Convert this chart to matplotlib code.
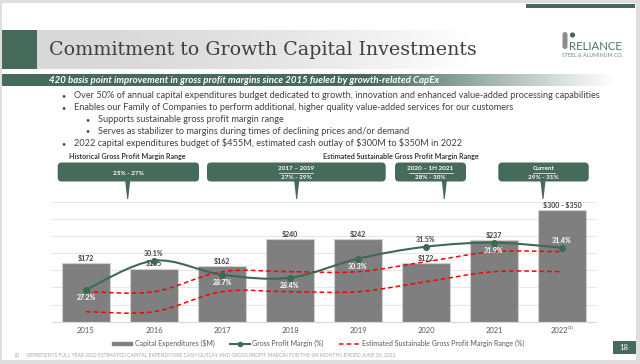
import matplotlib
matplotlib.use('Agg')
import matplotlib.pyplot as plt
import numpy as np
from matplotlib.patches import Rectangle, FancyBboxPatch, Polygon, PathPatch, Circle
from matplotlib.path import Path
from matplotlib.lines import Line2D
from matplotlib.colors import LinearSegmentedColormap, to_rgb

plt.rcParams['font.family'] = ['Lato', 'DejaVu Sans']
plt.rcParams['text.parse_math'] = False

# ---- data ----
years = ['2015', '2016', '2017', '2018', '2019', '2020', '2021', '2022\u207d\u00b9\u207e']
capex = [172, 155, 162, 240, 242, 172, 237, 325]          # 2022 = midpoint of $300-$350
capex_labels = ['$172', '$155', '$162', '$240', '$242', '$172', '$237', '$300 - $350']
gpm = [27.2, 30.1, 28.7, 28.4, 30.3, 31.5, 31.9, 31.4]
gpm_labels = ['27.2%', '30.1%', '28.7%', '28.4%', '30.3%', '31.5%', '31.9%', '31.4%']
range_low = [25, 25, 27, 27, 27, 28, 29, 29]
range_high = [27, 27, 29, 29, 29, 30, 31, 31]

callout_titles = ['', '2017 \u2013 2019', '2020 \u2013 1H 2021', 'Current']
callout_ranges = ['25% - 27%', '27% - 29%', '28% - 30%', '29% - 31%']

bullets = [
    'Over 50% of annual capital expenditures budget dedicated to growth, innovation and enhanced value-added processing capabilities',
    'Enables our Family of Companies to perform additional, higher quality value-added services for our customers',
    'Supports sustainable gross profit margin range',
    'Serves as stabilizer to margins during times of declining prices and/or demand',
    '2022 capital expenditures budget of $455M, estimated cash outlay of $300M to $350M in 2022',
]
bullet_level = [0, 0, 1, 1, 0]

GREEN = '#466b5b'
LINE_GREEN = '#3d6a53'
BAR_GRAY = '#7f7f7f'
TXT = '#404040'

W, H = 640, 364
fig = plt.figure(figsize=(W / 100, H / 100), dpi=100)
fig.patch.set_facecolor('#dedede')

# background axes in pixel coordinates (y grows downward)
bg = fig.add_axes([0, 0, 1, 1], zorder=0)
bg.axis('off')

bg.add_patch(Rectangle((2, 3), 634, 357, color='white', lw=0, zorder=0.5))
bg.add_patch(Rectangle((526, 4), 109, 4, color=GREEN, lw=0))

# title band: green square + gray gradient
bg.add_patch(Rectangle((2, 30), 35, 39, color=GREEN, lw=0))
t = np.linspace(0, 1, 300) ** 1.8
cm = LinearSegmentedColormap.from_list('band', ['#d8d8d8', '#ffffff'])
bg.imshow(t[None, :], cmap=cm, extent=[37, 470, 69, 30], aspect='auto', vmin=0, vmax=1, zorder=0.8)

# green subtitle banner fading to white
g = np.array(to_rgb(GREEN))
alpha = np.clip(1 - (np.linspace(0, 1, 300) - 0.6) / 0.4, 0, 1)
img = np.zeros((1, 300, 4))
img[0, :, :3] = g
img[0, :, 3] = alpha
bg.imshow(img, extent=[2, 614, 86, 74], aspect='auto', zorder=0.8)
bg.set_xlim(0, W)
bg.set_ylim(H, 0)

fits = []   # (group of texts, reference text, target width in px)

title = bg.text(49, 50, 'Commitment to Growth Capital Investments', family='DejaVu Serif',
                color=TXT, fontsize=16, va='center', ha='left')
fits.append(([title], title, 429))

banner = bg.text(49, 80.5, '420 basis point improvement in gross profit margins since 2015 fueled by growth-related CapEx',
                 color='white', fontsize=7, fontweight='bold', style='italic', va='center', ha='left')
fits.append(([banner], banner, 391))

# logo
bg.add_patch(FancyBboxPatch((562.5, 32), 5, 17, boxstyle='round,pad=0,rounding_size=2.5',
                            color='#8c8c8c', lw=0))
bg.add_patch(Circle((572.5, 35), 2.6, color=LINE_GREEN, lw=0))
logo1 = bg.text(568.5, 47, 'RELIANCE', color='#4f7463', fontsize=8, va='center', ha='left')
logo2 = bg.text(562, 55.7, 'STEEL & ALUMINUM CO.', color='#6f8a7c', fontsize=3, va='center', ha='left')
fits.append(([logo1], logo1, 53))
fits.append(([logo2], logo2, 60))

# bullets
bullet_y = [96, 107.7, 119.3, 131, 143.3]
btexts = []
for txt, lvl, y in zip(bullets, bullet_level, bullet_y):
    x_dot = 61 if lvl == 0 else 85
    x_txt = 74 if lvl == 0 else 97.7
    bg.text(x_dot, y, '\u2022', color=TXT, fontsize=5, va='center', ha='left')
    btexts.append(bg.text(x_txt, y, txt, color=TXT, fontsize=7, va='center', ha='left'))
fits.append((btexts, btexts[0], 527.7))

h1 = bg.text(69, 157, 'Historical Gross Profit Margin Range', color='#3a3a3a', fontsize=5,
             fontweight='bold', va='center', ha='left')
h2 = bg.text(322.7, 157, 'Estimated Sustainable Gross Profit Margin Range', color='#3a3a3a', fontsize=5,
             fontweight='bold', va='center', ha='left')
fits.append(([h1, h2], h1, 118.7))

# callout boxes
box_x = [(57.7, 199), (207, 385.7), (395, 466), (498.3, 588.7)]
tip_x = [127.7, 296.7, 444.3, 543]
for (x0, x1), tx, head, rng in zip(box_x, tip_x, callout_titles, callout_ranges):
    bg.add_patch(FancyBboxPatch((x0, 162.5), x1 - x0, 19, boxstyle='round,pad=0,rounding_size=4',
                                color=GREEN, lw=0))
    bg.add_patch(Polygon([(tx - 2.5, 181), (tx + 2.5, 181), (tx + 0.5, 199), (tx - 0.5, 199)],
                         color=GREEN, lw=0))
    cx = (x0 + x1) / 2
    if head:
        ht = bg.text(cx, 169, head, color='white', fontsize=4.6, fontweight='bold', ha='center', va='center')
        half = 17 if len(head) < 12 else 22
        if head == 'Current':
            half = 11
        bg.plot([cx - half, cx + half], [172.6, 172.6], color='white', lw=0.5)
        bg.text(cx, 177.7, rng, color='white', fontsize=4.6, fontweight='bold', ha='center', va='center')
    else:
        bg.text(cx, 173.3, rng, color='white', fontsize=4.6, fontweight='bold', ha='center', va='center')

# footnote + page number
bg.text(15, 355, '(1)', color='#a6a6a6', fontsize=3.3, va='center', ha='left')
foot = bg.text(26.7, 355, 'REPRESENTS FULL YEAR 2022 ESTIMATED CAPITAL EXPENDITURE CASH OUTLAY AND GROSS PROFIT MARGIN '
               'FOR THE SIX MONTHS ENDED JUNE 30, 2022.', color='#a6a6a6', fontsize=3.3, va='center', ha='left')
fits.append(([foot], foot, 371))
bg.add_patch(Rectangle((612.7, 341), 23.3, 12.5, color=GREEN, lw=0))
bg.text(624.3, 347.3, '18', color='white', fontsize=5.5, ha='center', va='center')

# ---- chart ----
ax = fig.add_axes([52 / W, 1 - 321.7 / H, (596 - 52) / W, 120 / H], zorder=1)
ax.set_facecolor('none')
x = np.arange(len(years))
ax.bar(x, capex, width=0.7, color=BAR_GRAY, edgecolor='#d0d0d0', linewidth=0.8, zorder=2)
ax.set_xlim(-0.5, 7.5)
ax.set_ylim(0, 350)
ax.set_yticks(np.arange(0, 351, 50))
ax.yaxis.grid(True, color='#e6e6e6', lw=0.8, zorder=0)
ax.set_axisbelow(True)
ax.set_xticks(x)
ax.set_xticklabels(years)
for s in ['top', 'left', 'right']:
    ax.spines[s].set_visible(False)
ax.spines['bottom'].set_color('#d9d9d9')
for xi, v, lab in zip(x, capex, capex_labels):
    ax.annotate(lab, (xi, v), xytext=(0, 0.8), textcoords='offset points', ha='center', va='bottom',
                fontsize=5, fontweight='bold', color=TXT)

ax2 = ax.twinx()
ax2.set_ylim(24, 36)
ax2.axis('off')
ax.tick_params(axis='y', left=False, right=False, labelleft=False, labelright=False)
ax.tick_params(axis='x', length=0, pad=4, labelsize=5.5, labelcolor='#595959')


def smooth_path(xs, ys):
    pts = list(zip(xs, ys))
    verts = [pts[0]]
    codes = [Path.MOVETO]
    n = len(pts)
    for i in range(n - 1):
        p0, p1, p2, p3 = pts[max(i - 1, 0)], pts[i], pts[i + 1], pts[min(i + 2, n - 1)]
        verts.append((p1[0] + (p2[0] - p0[0]) / 6, p1[1] + (p2[1] - p0[1]) / 6))
        verts.append((p2[0] - (p3[0] - p1[0]) / 6, p2[1] - (p3[1] - p1[1]) / 6))
        verts.append(p2)
        codes += [Path.CURVE4] * 3
    return Path(verts, codes)


for rng in (range_low, range_high):
    ax2.add_patch(PathPatch(smooth_path(x, rng), fill=False, edgecolor='#ff0000', lw=1.1,
                            linestyle=(0, (3, 2)), zorder=3))
ax2.add_patch(PathPatch(smooth_path(x, gpm), fill=False, edgecolor=LINE_GREEN, lw=1.5, zorder=4))
ax2.plot(x, gpm, 'o', color=LINE_GREEN, ms=4, zorder=5)

label_side = [-1, 1, -1, -1, -1, 1, -1, 1]
label_color = ['white', TXT, 'white', 'white', 'white', TXT, 'white', 'white']
for xi, v, lab, side, col in zip(x, gpm, gpm_labels, label_side, label_color):
    ax2.annotate(lab, (xi, v), xytext=(0, 5.3 * side), textcoords='offset points', ha='center',
                 va='center', fontsize=5, fontweight='bold', color=col, zorder=6)

handles = [Rectangle((0, 0), 1, 1, color=BAR_GRAY),
           Line2D([], [], color=LINE_GREEN, lw=1.5, marker='o', ms=3),
           Line2D([], [], color='#ff0000', lw=1.1, linestyle=(0, (3, 2)))]
fig.legend(handles, ['Capital Expenditures ($M)', 'Gross Profit Margin (%)',
                     'Estimated Sustainable Gross Profit Margin Range (%)'],
           loc='center', bbox_to_anchor=(318 / W, 1 - 343.3 / H), ncol=3, frameon=False,
           fontsize=5, labelcolor='#595959', handlelength=3, handleheight=0.5,
           columnspacing=2.2, handletextpad=0.3)

# scale text groups to the widths measured on the slide
fig.canvas.draw()
r = fig.canvas.get_renderer()
for group, ref, width in fits:
    k = width / ref.get_window_extent(r).width
    size = ref.get_fontsize() * k
    for tt in group:
        tt.set_fontsize(size)

fig.savefig('out.png', dpi=100)
